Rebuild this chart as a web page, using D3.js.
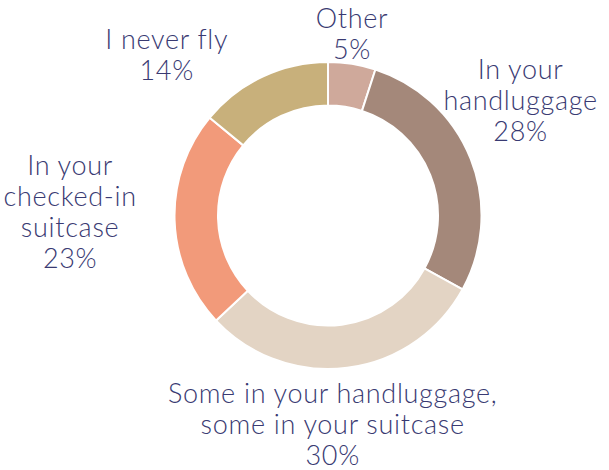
<!DOCTYPE html>
<html>
<head>
<meta charset="utf-8">
<script src="https://cdn.jsdelivr.net/npm/d3@7"></script>
<style>
  html, body { margin: 0; padding: 0; background: #fff; }
  svg { display: block; }
  .lbl { font-family: Lato, "Noto Sans", sans-serif; font-size: 27px; font-weight: 300; letter-spacing: 0.7px; fill: #393a72; }
</style>
</head>
<body>
<svg id="chart" width="609" height="470"></svg>
<script>
// Where do you pack your liquids when flying?
const categories = [
  ["Other"],
  ["In your", "handluggage"],
  ["Some in your handluggage,", "some in your suitcase"],
  ["In your", "checked-in", "suitcase"],
  ["I never fly"]
];
const values = [5, 28, 30, 23, 14];
const colors = ["#cfa99b", "#a4887a", "#e3d4c4", "#f29a7a", "#c8b07b"];

// Label nudges (px) from the default outer label point of each slice
const labelNudge = [[-8, 21], [2, -40], [-21, 6], [-53, -10], [-74, 25]];

const width = 609, height = 470;
const cx = 328, cy = 215.5;
const outerR = 153.5, innerR = 110, labelR = 205;
const lineH = 31;

const svg = d3.select("#chart");
const g = svg.append("g").attr("transform", `translate(${cx},${cy})`);

const pie = d3.pie().sort(null).value(d => d.value);
const data = pie(values.map((v, i) => ({ value: v, lines: categories[i], color: colors[i], i })));

const arc = d3.arc().innerRadius(innerR).outerRadius(outerR);

g.selectAll("path.slice")
  .data(data)
  .join("path")
  .attr("class", "slice")
  .attr("d", arc)
  .attr("fill", d => d.data.color)
  .attr("stroke", "#ffffff")
  .attr("stroke-width", 2)
  .attr("stroke-linejoin", "round");

// Labels: category lines followed by the percentage
const labels = g.selectAll("text.lbl")
  .data(data)
  .join("text")
  .attr("class", "lbl")
  .attr("text-anchor", "middle");

labels.each(function(d) {
  const mid = (d.startAngle + d.endAngle) / 2;
  const nx = labelNudge[d.data.i][0], ny = labelNudge[d.data.i][1];
  const x = Math.sin(mid) * labelR + nx;
  const y = -Math.cos(mid) * labelR + ny;
  const lines = d.data.lines.concat([d.data.value + "%"]);
  const top = y - (lines.length - 1) * lineH / 2;
  const t = d3.select(this);
  lines.forEach((s, k) => {
    t.append("tspan")
      .attr("x", x)
      .attr("y", top + k * lineH)
      .attr("dy", "0.35em")
      .text(s);
  });
});
</script>
</body>
</html>
